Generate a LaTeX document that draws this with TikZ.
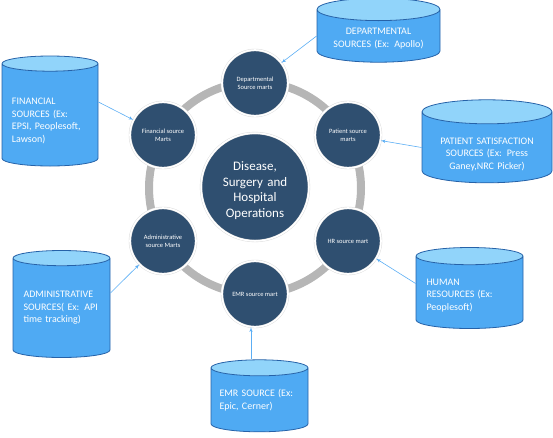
\documentclass[tikz,border=0pt]{standalone}
\usepackage{fontspec}
\setmainfont{Carlito}
\usepackage{tikz}
\usetikzlibrary{arrows,shapes.geometric}
\definecolor{martblue}{RGB}{47,79,112}
\definecolor{ringgray}{RGB}{182,182,182}
\definecolor{srcbody}{RGB}{79,170,243}
\definecolor{srctop}{RGB}{145,212,250}
\definecolor{srcedge}{RGB}{38,98,168}
\definecolor{feedblue}{RGB}{92,174,244}

\begin{document}
\begin{tikzpicture}[x=1pt,y=-1pt,
    mart/.style={shape=circle,fill=martblue,draw=gray!30,double=white,double distance=1.6pt,line width=0.4pt,
        text=white,minimum size=66pt,inner sep=0pt,align=center,font=\fontsize{6.5}{8}\selectfont},
    hub/.style={mart,minimum size=96pt,text width=86pt,font=\fontsize{13}{15.7}\selectfont},
    source/.style={shape=cylinder,shape border rotate=90,aspect=0.2,draw=srcedge,line width=0.8pt,
        cylinder uses custom fill,cylinder body fill=srcbody,cylinder end fill=srctop,
        text=white,inner sep=0pt,font=\fontsize{10}{12.5}\selectfont},
    drop/.style={execute at begin node={\rule{0pt}{#1}}},
    feed/.style={-latex',draw=feedblue,line width=0.6pt}]
    \useasboundingbox (0,0) rectangle (553,437);
    % grey ring behind the marts
    \draw [ringgray,line width=8pt] (255,188) circle (106);
    \node [hub,drop=16pt]  (hub) at (255,187) {Disease,\\Surgery and\\Hospital\\Operations};
    \node [mart] (dep) at (255,83)  {Departmental\\Source marts};
    \node [mart] (pat) at (348,135) {Patient source\\marts};
    \node [mart] (hr)  at (348,241) {HR source mart};
    \node [mart] (emr) at (255,294) {EMR source mart};
    \node [mart] (adm) at (163,241) {Administrative\\source Marts};
    \node [mart] (fin) at (163,135) {Financial source\\Marts};
    % sources
    \node [source,minimum width=123pt,minimum height=64pt,align=center,text width=112pt,drop=12pt] (dsrc) at (378.5,36)
        {DEPARTMENTAL\\SOURCES (Ex: Apollo)};
    \node [source,minimum width=130pt,minimum height=81pt,align=center,text width=120pt,drop=20pt] (psrc) at (487,147.5)
        {PATIENT SATISFACTION\\SOURCES (Ex: Press\\Ganey,NRC Picker)};
    \node [source,minimum width=96pt,minimum height=110pt,align=left,text width=76pt,drop=18pt] (fsrc) at (50,115)
        {FINANCIAL\\SOURCES (Ex:\\EPSI, Peoplesoft,\\Lawson)};
    \node [source,minimum width=97pt,minimum height=107pt,align=left,text width=76pt] (asrc) at (61.5,308)
        {ADMINISTRATIVE\\SOURCES( Ex: API\\time tracking)};
    \node [source,minimum width=107pt,minimum height=81pt,align=left,text width=86pt,drop=12pt] (hsrc) at (469.5,292.5)
        {HUMAN\\RESOURCES (Ex:\\Peoplesoft)};
    \node [source,minimum width=97pt,minimum height=72pt,align=left,text width=80pt] (esrc) at (259.5,400)
        {EMR SOURCE (Ex:\\Epic, Cerner)};
    % feeds
    \draw [feed] (dsrc.west) -- (dep);
    \draw [feed] (psrc.west) -- (pat);
    \draw [feed] ([yshift=13pt]fsrc.east) -- (fin);
    \draw [feed] ([yshift=15pt]asrc.east) -- (adm);
    \draw [feed] ([yshift=9pt]hsrc.west) -- (hr);
    \draw [feed] ([xshift=-4pt]emr |- esrc.north) -- ([xshift=-4pt]emr.south);
\end{tikzpicture}
\end{document}
